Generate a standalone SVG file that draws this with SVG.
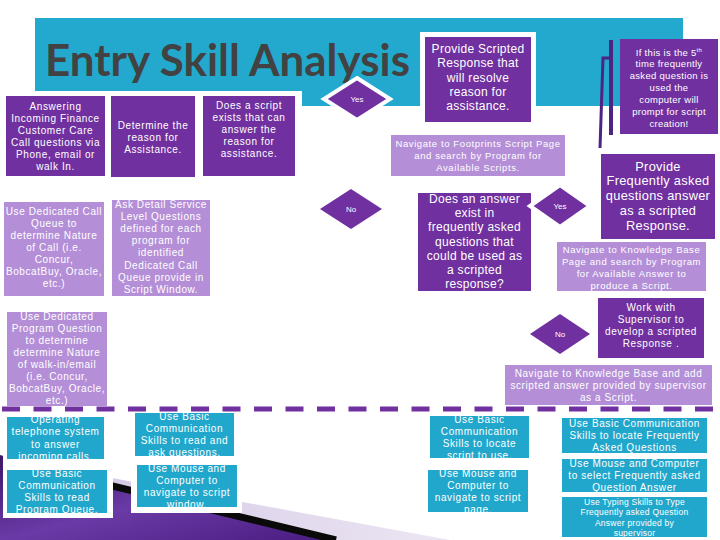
<svg xmlns="http://www.w3.org/2000/svg" width="720" height="540" viewBox="0 0 720 540">
<defs>
<linearGradient id="pg" x1="0" y1="0" x2="1" y2="1">
<stop offset="0" stop-color="#3e1668"/>
<stop offset="0.5" stop-color="#6a3aa6"/>
<stop offset="1" stop-color="#4a1c80"/>
</linearGradient>
<linearGradient id="lg" x1="0" y1="0" x2="1" y2="0">
<stop offset="0" stop-color="#cfc2e2"/>
<stop offset="1" stop-color="#ece6f3"/>
</linearGradient>
</defs>
<style>
.dk{fill:#7030a0}
.lt{fill:#b48fd8}
.tl{fill:#22a7cc}
.wp{fill:#ffffff}
.t{fill:#ffffff;font-family:"Liberation Sans",Arial,sans-serif;text-anchor:middle}
.f8{font-size:8px}
.f85{font-size:8.5px;letter-spacing:0.25px}
.f95{font-size:9.5px;letter-spacing:0.6px}
.f10{font-size:10px;letter-spacing:0.6px}
.f12{font-size:12px;letter-spacing:0.3px}
.f13{font-size:12.8px;letter-spacing:0.3px}
.dia{fill:#7030a0;stroke:#ffffff;stroke-width:4}
</style>
<rect width="720" height="540" fill="#ffffff"/>
<!-- background swoosh -->
<path d="M90,474 L450,540 L0,540 Z" fill="url(#lg)"/>
<path d="M0,455 L100,484 L335,540 L0,540 Z" fill="url(#pg)"/>
<path d="M96,482 L336,540" stroke="#0a0a0a" stroke-width="7" fill="none"/>
<!-- banner -->
<rect x="35" y="18" width="648" height="88" fill="#22a9cd"/>
<rect class="wp" x="0" y="91" width="302" height="92"/>
<rect class="wp" x="420" y="32" width="116" height="95"/>
<rect class="wp" x="3" y="410" width="110" height="108"/>
<rect class="wp" x="131" y="409" width="111" height="104"/>
<text x="45" y="76" font-family="Lato,'Open Sans',sans-serif" font-weight="bold" font-size="44" fill="#424242" textLength="365" lengthAdjust="spacingAndGlyphs">Entry Skill Analysis</text>

<g id="connectors">
<line x1="2" y1="409" x2="720" y2="409" stroke="#7030a0" stroke-width="5" stroke-dasharray="18 13.5"/>
<rect x="609" y="40" width="4" height="95" fill="#4d2383"/>
<path d="M610,58 L603,58 L600,148" stroke="#4d2383" stroke-width="3" fill="none"/>
</g>

<g id="n1"><rect class="dk" x="6" y="96" width="99" height="80"/>
<text class="t f10" y="110"><tspan x="55.5">Answering</tspan><tspan x="55.5" dy="12">Incoming Finance</tspan><tspan x="55.5" dy="12">Customer Care</tspan><tspan x="55.5" dy="12">Call questions via</tspan><tspan x="55.5" dy="12">Phone, email or</tspan><tspan x="55.5" dy="12">walk In.</tspan></text></g>

<g id="n2"><rect class="dk" x="111" y="96" width="84" height="81"/>
<text class="t f10" y="129"><tspan x="153">Determine the</tspan><tspan x="153" dy="12">reason for</tspan><tspan x="153" dy="12">Assistance.</tspan></text></g>

<g id="n3"><rect class="dk" x="203" y="96" width="92" height="80"/>
<text class="t f10" y="109"><tspan x="249">Does a script</tspan><tspan x="249" dy="12">exists that can</tspan><tspan x="249" dy="12">answer the</tspan><tspan x="249" dy="12">reason for</tspan><tspan x="249" dy="12">assistance.</tspan></text></g>

<g id="n4"><rect class="lt" x="4" y="202" width="100" height="94"/>
<text class="t f10" y="215"><tspan x="54">Use Dedicated Call</tspan><tspan x="54" dy="12">Queue to</tspan><tspan x="54" dy="12">determine Nature</tspan><tspan x="54" dy="12">of Call (i.e.</tspan><tspan x="54" dy="12">Concur,</tspan><tspan x="54" dy="12">BobcatBuy, Oracle,</tspan><tspan x="54" dy="12">etc.)</tspan></text></g>

<g id="n5"><rect class="lt" x="112" y="200" width="98" height="96"/>
<text class="t f10" y="208"><tspan x="161">Ask Detail Service</tspan><tspan x="161" dy="12.1">Level Questions</tspan><tspan x="161" dy="12.1">defined for each</tspan><tspan x="161" dy="12.1">program for</tspan><tspan x="161" dy="12.1">identified</tspan><tspan x="161" dy="12.1">Dedicated Call</tspan><tspan x="161" dy="12.1">Queue provide in</tspan><tspan x="161" dy="12.1">Script Window.</tspan></text></g>

<g id="n6"><rect class="lt" x="7" y="312" width="100" height="94"/>
<text class="t f10" y="320"><tspan x="57">Use Dedicated</tspan><tspan x="57" dy="12">Program Question</tspan><tspan x="57" dy="12">to determine</tspan><tspan x="57" dy="12">determine Nature</tspan><tspan x="57" dy="12">of walk-in/email</tspan><tspan x="57" dy="12">(i.e. Concur,</tspan><tspan x="57" dy="12">BobcatBuy, Oracle,</tspan><tspan x="57" dy="12">etc.)</tspan></text></g>

<g id="d1"><polygon class="dia" points="357,78 390,99 357,120 324,99"/>
<text class="t f8" x="357" y="102">Yes</text></g>

<g id="n7"><rect class="dk" x="425" y="37" width="106" height="85"/>
<text class="t f12" y="53"><tspan x="478">Provide Scripted</tspan><tspan x="478" dy="14.3">Response that</tspan><tspan x="478" dy="14.3">will resolve</tspan><tspan x="478" dy="14.3">reason for</tspan><tspan x="478" dy="14.3">assistance.</tspan></text></g>

<g id="n8"><rect class="lt" x="391" y="135" width="174" height="41"/>
<text class="t f95" y="146.5"><tspan x="478">Navigate to Footprints Script Page</tspan><tspan x="478" dy="12">and search by Program for</tspan><tspan x="478" dy="12">Available Scripts.</tspan></text></g>

<g id="n9"><rect class="dk" x="620" y="39" width="98" height="95"/>
<text class="t f95" y="55.5" style="letter-spacing:0.3px"><tspan x="669">If this is the 5<tspan font-size="6" dy="-4">th</tspan></tspan><tspan x="669" dy="15.9">time frequently</tspan><tspan x="669" dy="11.9">asked question is</tspan><tspan x="669" dy="11.9">used the</tspan><tspan x="669" dy="11.9">computer will</tspan><tspan x="669" dy="11.9">prompt for script</tspan><tspan x="669" dy="11.9">creation!</tspan></text></g>

<g id="d2"><polygon class="dk" points="351,189 382,209 351,229 320,209"/>
<text class="t f8" x="351" y="212">No</text></g>

<g id="n10"><rect class="dk" x="418" y="193" width="113" height="98"/>
<text class="t f12" y="203"><tspan x="474.5">Does an answer</tspan><tspan x="474.5" dy="14.2">exist in</tspan><tspan x="474.5" dy="14.2">frequently asked</tspan><tspan x="474.5" dy="14.2">questions that</tspan><tspan x="474.5" dy="14.2">could be used as</tspan><tspan x="474.5" dy="14.2">a scripted</tspan><tspan x="474.5" dy="14.2">response?</tspan></text></g>

<g id="d3"><polygon class="dia" points="560,185 590,206 560,227 530,206"/>
<text class="t f8" x="560" y="209">Yes</text></g>

<g id="n11"><rect class="dk" x="601" y="154" width="114" height="85"/>
<text class="t f13" y="170.5"><tspan x="658">Provide</tspan><tspan x="658" dy="14.8">Frequently asked</tspan><tspan x="658" dy="14.8">questions answer</tspan><tspan x="658" dy="14.8">as a scripted</tspan><tspan x="658" dy="14.8">Response.</tspan></text></g>

<g id="n12"><rect class="lt" x="557" y="242" width="149" height="49"/>
<text class="t f95" y="252.5"><tspan x="631.5">Navigate to Knowledge Base</tspan><tspan x="631.5" dy="12">Page and search by Program</tspan><tspan x="631.5" dy="12">for Available  Answer to</tspan><tspan x="631.5" dy="12">produce a Script.</tspan></text></g>

<g id="n13"><rect class="dk" x="598" y="298" width="106" height="60"/>
<text class="t f10" y="310.5"><tspan x="651">Work with</tspan><tspan x="651" dy="12.3">Supervisor to</tspan><tspan x="651" dy="12.3">develop a scripted</tspan><tspan x="651" dy="12.3">Response .</tspan></text></g>

<g id="d4"><polygon class="dk" points="560,314 590,334 560,354 530,334"/>
<text class="t f8" x="560" y="337">No</text></g>

<g id="n14"><rect class="lt" x="505" y="365" width="207" height="40"/>
<text class="t f10" y="376.5"><tspan x="608.5">Navigate to Knowledge Base and add</tspan><tspan x="608.5" dy="12">scripted answer provided by supervisor</tspan><tspan x="608.5" dy="12">as a Script.</tspan></text></g>

<g id="n15"><rect class="tl" x="7" y="417" width="97" height="42"/>
<text class="t f10" y="423"><tspan x="55.5">Operating</tspan><tspan x="55.5" dy="12.3">telephone system</tspan><tspan x="55.5" dy="12.3">to answer</tspan><tspan x="55.5" dy="12.3">incoming calls.</tspan></text></g>

<g id="n16"><rect class="tl" x="7" y="470" width="100" height="43"/>
<text class="t f10" y="476.5"><tspan x="57">Use Basic</tspan><tspan x="57" dy="12">Communication</tspan><tspan x="57" dy="12">Skills to read</tspan><tspan x="57" dy="12">Program Queue.</tspan></text></g>

<g id="n17"><rect class="tl" x="135" y="413" width="99" height="43"/>
<text class="t f10" y="419.5"><tspan x="184.5">Use Basic</tspan><tspan x="184.5" dy="12">Communication</tspan><tspan x="184.5" dy="12">Skills to read and</tspan><tspan x="184.5" dy="12">ask questions.</tspan></text></g>

<g id="n18"><rect class="tl" x="137" y="465" width="100" height="42"/>
<text class="t f10" y="471.5"><tspan x="187">Use Mouse and</tspan><tspan x="187" dy="12">Computer to</tspan><tspan x="187" dy="12">navigate to script</tspan><tspan x="187" dy="12">window.</tspan></text></g>

<g id="n19"><rect class="tl" x="430" y="416" width="99" height="42"/>
<text class="t f10" y="422.5"><tspan x="479.5">Use Basic</tspan><tspan x="479.5" dy="12">Communication</tspan><tspan x="479.5" dy="12">Skills to locate</tspan><tspan x="479.5" dy="12">script to use.</tspan></text></g>

<g id="n20"><rect class="tl" x="428" y="470" width="100" height="42"/>
<text class="t f10" y="476.5"><tspan x="478">Use Mouse and</tspan><tspan x="478" dy="12">Computer to</tspan><tspan x="478" dy="12">navigate to script</tspan><tspan x="478" dy="12">page.</tspan></text></g>

<g id="n21"><rect class="tl" x="562" y="418" width="145" height="35"/>
<text class="t f10" y="426.5"><tspan x="634.5">Use Basic Communication</tspan><tspan x="634.5" dy="12">Skills to locate  Frequently</tspan><tspan x="634.5" dy="12">Asked Questions</tspan></text></g>

<g id="n22"><rect class="tl" x="562" y="459" width="145" height="33"/>
<text class="t f10" y="466.5"><tspan x="634.5">Use Mouse and Computer</tspan><tspan x="634.5" dy="12">to select  Frequently asked</tspan><tspan x="634.5" dy="12">Question Answer</tspan></text></g>

<g id="n23"><rect class="tl" x="562" y="497" width="145" height="40"/>
<text class="t f85" y="505"><tspan x="634.5">Use Typing Skills to Type</tspan><tspan x="634.5" dy="10.3">Frequently asked Question</tspan><tspan x="634.5" dy="10.3">Answer provided by</tspan><tspan x="634.5" dy="10.3">supervisor</tspan></text></g>
</svg>
